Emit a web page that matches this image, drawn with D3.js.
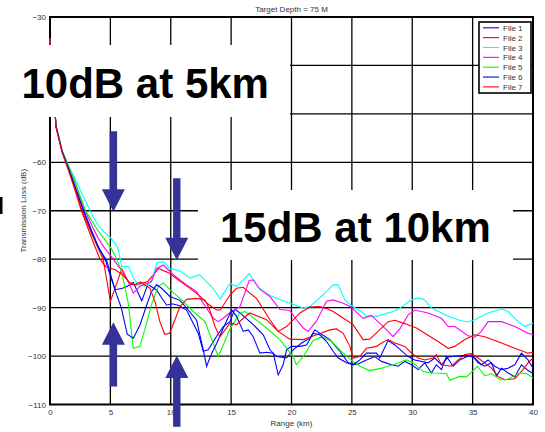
<!DOCTYPE html>
<html>
<head>
<meta charset="utf-8">
<script src="https://cdn.jsdelivr.net/npm/d3@7"></script>
<style>
body { margin: 0; background: #fff; }
text { font-family: "Liberation Sans", Arial, sans-serif; }
</style>
</head>
<body>
<svg id="visualisation" width="545" height="432"></svg>
<script>
// range (km) / transmission loss (dB)
var xTicks = [0, 5, 10, 15, 20, 25, 30, 35, 40];
var yTicks = [-110, -100, -90, -80, -70, -60, -50, -40, -30];
var hiddenYLabels = [-40]; // covered by the "10dB" note
var names = ["File 1", "File 2", "File 3", "File 4", "File 5", "File 6", "File 7"];
var colors = ["#0000ff", "#ff0000", "#00ffff", "#ff00ff", "#00ff00", "#0000ff", "#ff0000"];

var file1 = [[0,-34.5],[0.5,-52.6],[1,-57.7],[1.5,-61],[2,-64.4],[2.75,-70],[3.5,-74.5],[4,-77.4],[4.6,-80.3],[5,-83.5],[5.4,-86.3],[6,-86],[6.4,-85.6],[6.9,-84.8],[7.6,-88.6],[8.1,-85.2],[8.83,-86.4],[9.66,-89.5],[10.07,-89.2],[10.62,-89.5],[11.31,-90.5],[11.73,-92.6],[12.28,-95.3],[12.69,-99],[13.1,-98.7],[13.8,-95.9],[14.35,-93.9],[14.9,-92.9],[15.31,-90.3],[15.73,-91.1],[16.83,-93.5],[17.66,-95.6],[18.21,-98.7],[18.76,-100.1],[19.59,-100.4],[20.14,-98.7],[20.83,-97.3],[21.52,-96.3],[21.93,-94.6],[22.35,-95.3],[23.18,-96.6],[24,-99],[24.7,-101.4],[25.38,-101.8],[26.21,-100.8],[26.9,-100.1],[27.45,-101.1],[28.28,-101.8],[28.83,-102.1],[29.38,-101.1],[29.94,-101.8],[30.49,-102.8],[31.04,-101.4],[31.59,-103.5],[32,-101.8],[32.42,-102.8],[32.83,-100.1],[33.38,-102.1],[33.94,-100.8],[34.9,-99.7],[35.45,-101.4],[36,-102.1],[36.56,-101.4],[36.97,-104.1],[37.39,-102.5],[37.94,-103.5],[38.49,-104.3],[39.04,-101.8],[39.59,-103],[40,-103.6]];
var file2 = [[0,-34.5],[0.5,-52.7],[1,-57.8],[1.5,-61.2],[2,-64.8],[2.65,-70],[3.5,-75],[4,-77.8],[4.4,-80],[5,-88.7],[5.95,-82],[6.6,-85.2],[7.2,-85.3],[8.1,-84.6],[9,-81.9],[9.9,-82.9],[10.8,-84.6],[11.6,-86],[12.4,-87.6],[13,-89.1],[13.8,-90.5],[14.1,-90.5],[14.9,-87.4],[15.45,-86],[16,-85.8],[16.55,-87],[17.1,-88.1],[18.21,-92.5],[18.9,-94.9],[19.86,-96.5],[20.97,-96.6],[22.07,-95.6],[23.18,-94.6],[23.73,-94.4],[24.28,-95.3],[24.83,-98],[25.1,-100.4],[25.66,-100.1],[26.21,-98.4],[27.04,-98],[27.45,-97.3],[28,-96.6],[28.56,-97.3],[29.38,-98],[29.94,-99.4],[30.49,-100.4],[31.04,-100.8],[31.73,-100.4],[32,-99.7],[32.42,-101.8],[33.25,-102.1],[33.8,-100.8],[34.35,-99.7],[34.9,-99.5],[35.45,-100.4],[36,-101.4],[36.56,-102.5],[37.11,-104.2],[37.66,-104.9],[38.49,-104.7],[39.18,-102.8],[39.59,-101.4],[40,-100.4]];
var file3 = [[0,-34.5],[0.5,-52.5],[1,-57.5],[1.5,-60.5],[2,-63],[2.5,-65.6],[3,-68.3],[3.5,-70.9],[4,-73],[4.5,-74.4],[5,-75.5],[5.6,-77.5],[5.95,-81.5],[6.5,-81.5],[6.9,-83.9],[7.3,-85.3],[8,-85.6],[8.4,-84.6],[8.85,-80.8],[9.4,-80.5],[9.9,-81.9],[10.8,-82.5],[11.6,-83.9],[12.4,-83.2],[13.5,-86],[14.1,-88.2],[14.9,-85],[15.45,-85.6],[16.5,-83],[17.3,-86],[18.3,-87.6],[19.86,-89.1],[20.97,-90.1],[21.52,-89.8],[22.9,-86.7],[23.45,-85.3],[23.86,-85.3],[24.42,-88.4],[24.97,-89.6],[25.8,-90.8],[26.21,-91.8],[27.04,-91.8],[28.42,-90.8],[28.97,-90.1],[29.94,-88.4],[30.5,-88],[31.04,-88.4],[31.59,-90.1],[32.97,-91.8],[34.07,-92.7],[34.63,-92.9],[35.18,-92.5],[36.28,-91.1],[37.39,-90.3],[37.94,-90.8],[38.77,-92.9],[39.32,-93.9],[40,-93.2]];
var file4 = [[0,-34.5],[0.5,-52.5],[1,-57.6],[1.5,-60.8],[2,-63.6],[2.5,-67.2],[2.9,-70],[3.5,-73.2],[4,-75.7],[4.5,-77.6],[5,-79.2],[5.8,-81.9],[6.48,-84.6],[6.9,-87],[7.45,-85.6],[8,-85],[8.4,-84.6],[8.83,-81.9],[9.38,-81.2],[10.21,-83.2],[11.31,-85.3],[12.14,-86.7],[12.69,-89.1],[13.52,-92.2],[13.93,-92.9],[14.35,-92.2],[14.9,-91],[15.73,-89.8],[16.5,-84.4],[16.83,-84.3],[17.38,-86.2],[18.21,-87.7],[19.04,-90.4],[19.86,-90.6],[20.41,-92.5],[20.97,-94.2],[21.38,-94.9],[22.07,-92.8],[22.9,-88.7],[23.45,-88.4],[24.28,-89.1],[24.9,-89.8],[25.93,-92.2],[26.6,-91.6],[27.3,-93.2],[27.87,-94.6],[28.42,-96],[28.97,-94.4],[29.66,-91.5],[30.21,-90.5],[31.31,-91.1],[32.42,-92.2],[32.97,-93.9],[33.52,-93.9],[34.63,-95.8],[35.18,-96.1],[35.73,-94.9],[36.28,-92.9],[37.39,-92.9],[38.49,-93.9],[39.59,-95.3],[40,-95.6]];
var file5 = [[0,-34.5],[0.5,-52.5],[1,-57.6],[1.5,-60.6],[2,-63.5],[2.5,-67],[2.95,-70],[3.5,-72.2],[4,-74.2],[4.5,-75.8],[5,-77.5],[5.4,-79.3],[5.9,-82.2],[6.48,-89.1],[6.9,-98.4],[7.45,-98],[8,-93.2],[8.4,-89.4],[8.97,-85.6],[9.38,-84.9],[9.93,-86.3],[10.9,-88.4],[11.86,-90.8],[12.83,-92.9],[13.93,-100.1],[14.35,-97.7],[14.9,-94.4],[15.73,-91.1],[16.14,-90.8],[16.55,-91.5],[17.93,-94.2],[19.04,-96.6],[20.14,-100.1],[20.4,-101.8],[20.97,-100.1],[21.8,-96.8],[22.5,-96.1],[23.3,-96.9],[24.1,-99],[24.97,-100.9],[25.66,-102.1],[26.49,-103],[27.3,-102.6],[28.42,-101.8],[29.52,-100.8],[30.07,-101.4],[30.9,-103.2],[31.73,-103.5],[32.83,-103.6],[33.1,-105],[33.94,-104.2],[34.49,-104.3],[35.4,-102.1],[36,-104.1],[36.56,-103.6],[37.3,-104.9],[37.8,-104.9],[38.9,-103.5],[39.45,-103.6],[40,-104.5]];
var file6 = [[0,-34.5],[0.5,-52.6],[1,-57.7],[1.5,-61],[2,-64.6],[2.8,-70],[3.5,-74.6],[4,-77.6],[4.7,-80.3],[5,-83],[5.4,-86.5],[5.9,-90],[6.4,-95.5],[6.9,-96.3],[7.45,-93.6],[8,-89.5],[8.4,-86.7],[8.83,-85.3],[9.24,-86],[9.93,-87.7],[10.76,-88.5],[11.59,-90.9],[12.14,-92.6],[12.69,-98.7],[12.97,-102.1],[13.38,-99.5],[13.8,-97.4],[14.3,-94.5],[15.04,-90.5],[15.45,-91.8],[16,-94.9],[16.42,-94.6],[16.83,-96],[17.38,-99.4],[17.93,-99.2],[18.49,-99.4],[18.9,-103.9],[19.31,-101.8],[19.59,-98.7],[20,-98],[20.69,-98],[21.24,-97.7],[21.8,-95.3],[22.35,-95.6],[22.9,-97],[23.45,-99],[23.87,-100.4],[24.56,-101.4],[25.11,-101.8],[25.66,-100.8],[26.21,-99.4],[27.04,-99.4],[27.31,-100.4],[28,-96.8],[28.56,-97.7],[29.66,-100.1],[30.21,-100.8],[31.31,-101.4],[31.87,-100.4],[32.42,-101.8],[32.97,-100.2],[34.07,-99.9],[34.63,-99.9],[35.18,-100.4],[35.73,-101.8],[36.28,-100.8],[36.83,-102.1],[37.39,-102.8],[37.94,-102.5],[38.49,-101.8],[39.04,-99.4],[39.59,-100.8],[40,-102.5]];
var file7 = [[0,-34.5],[0.5,-52.8],[1,-58],[1.5,-61.5],[2,-65.2],[2.6,-70],[3.5,-76],[4.14,-80],[4.6,-81.5],[5.4,-82.2],[6,-83.2],[6.5,-84.6],[7,-85.3],[7.5,-84.7],[8.28,-86],[8.69,-88.7],[9.1,-92.9],[9.5,-95.5],[9.9,-95.3],[10.35,-92.5],[10.76,-89.8],[11.31,-88.3],[12.14,-88.1],[12.83,-88.4],[13.24,-90.5],[13.66,-93.9],[14.07,-96],[14.5,-94.6],[14.9,-93.2],[15.45,-93.5],[16,-92.2],[16.55,-91.1],[17.93,-92.5],[18.9,-94.9],[19.59,-93.9],[20.7,-91.1],[21.52,-89.9],[22.35,-89.8],[22.9,-90.2],[23.45,-90.8],[24.3,-92.2],[25.1,-93.5],[25.93,-96.6],[26.49,-96.5],[27.3,-94.6],[28,-92.9],[28.56,-92.6],[29.38,-93.3],[30.35,-94.2],[31.04,-95.3],[32.14,-97],[32.97,-98.4],[33.52,-98],[34.35,-96.6],[35.18,-95.6],[36,-96],[37.39,-97.3],[38.49,-98.4],[39.59,-99.4],[40,-99.2]];
var series = [file1, file2, file3, file4, file5, file6, file7];

var notes = ["10dB at 5km", "15dB at 10km"];
var arrows = [
    { x: 5.25, from: -53.6, to: -70.2 },
    { x: 10.5, from: -63.3, to: -80.2 },
    { x: 5.25, from: -106.3, to: -93 },
    { x: 10.5, from: -114.6, to: -99.9 }
];

var vis = d3.select("#visualisation"),
    WIDTH = 545,
    HEIGHT = 432,
    MARGINS = { top: 17, right: 12, bottom: 27.5, left: 50 },
    xScale = d3.scaleLinear().domain([0, 40]).range([MARGINS.left, WIDTH - MARGINS.right]),
    yScale = d3.scaleLinear().domain([-110, -30]).range([HEIGHT - MARGINS.bottom, MARGINS.top]);

vis.append("rect").attr("width", WIDTH).attr("height", HEIGHT).attr("fill", "#fff");

// grid
vis.append("g").selectAll("line").data(xTicks.slice(1, -1)).enter().append("line")
    .attr("x1", d => xScale(d)).attr("x2", d => xScale(d))
    .attr("y1", yScale(-30)).attr("y2", yScale(-110))
    .attr("stroke", "#000").attr("stroke-width", 1.3);
vis.append("g").selectAll("line").data(yTicks.slice(1, -1)).enter().append("line")
    .attr("x1", xScale(0)).attr("x2", xScale(40))
    .attr("y1", d => yScale(d)).attr("y2", d => yScale(d))
    .attr("stroke", "#000").attr("stroke-width", 1.3);

// axes (labels only)
var xAxis = d3.axisBottom(xScale).tickValues(xTicks).tickSize(0).tickPadding(5);
var yAxis = d3.axisLeft(yScale)
    .tickValues(yTicks.filter(d => hiddenYLabels.indexOf(d) < 0))
    .tickSize(0).tickPadding(4);
var gx = vis.append("g").attr("transform", "translate(0," + yScale(-110) + ")").call(xAxis);
var gy = vis.append("g").attr("transform", "translate(" + xScale(0) + ",0)").call(yAxis);
[gx, gy].forEach(function (g) {
    g.select(".domain").remove();
    g.selectAll("text").attr("font-size", 8).attr("fill", "#333")
        .attr("font-family", "Liberation Sans, Arial, sans-serif");
});

// frame
vis.append("rect")
    .attr("x", xScale(0)).attr("y", yScale(-30))
    .attr("width", xScale(40) - xScale(0)).attr("height", yScale(-110) - yScale(-30))
    .attr("fill", "none").attr("stroke", "#000").attr("stroke-width", 2);

// data lines
var lineGen = d3.line()
    .x(function (d) { return xScale(d[0]); })
    .y(function (d) { return yScale(d[1]); });
series.forEach(function (s, i) {
    vis.append("path")
        .attr("d", lineGen(s))
        .attr("stroke", colors[i])
        .attr("stroke-width", 1.1)
        .attr("fill", "none");
});

// titles
vis.append("text").attr("x", (xScale(0) + xScale(40)) / 2).attr("y", 12)
    .attr("text-anchor", "middle").attr("font-size", 8).attr("fill", "#333")
    .text("Target Depth = 75 M");
vis.append("text").attr("x", (xScale(0) + xScale(40)) / 2).attr("y", 426)
    .attr("text-anchor", "middle").attr("font-size", 8).attr("fill", "#333")
    .text("Range (km)");
vis.append("text")
    .attr("transform", "translate(25.5," + (yScale(-70)) + ") rotate(-90)")
    .attr("text-anchor", "middle").attr("font-size", 8).attr("fill", "#333")
    .text("Transmission Loss (dB)");

// legend
var lg = vis.append("g").attr("transform", "translate(479,22)");
lg.append("rect").attr("width", 52).attr("height", 71)
    .attr("fill", "#fff").attr("stroke", "#000").attr("stroke-width", 1.6);
names.forEach(function (n, i) {
    var yy = 5.8 + i * 9.85;
    lg.append("line").attr("x1", 4).attr("x2", 20).attr("y1", yy).attr("y2", yy)
        .attr("stroke", colors[i]).attr("stroke-width", 1.1);
    lg.append("text").attr("x", 24).attr("y", yy + 3).attr("font-size", 8)
        .attr("fill", "#333").text(n);
});

// annotation boxes
var boxes = [
    { x: 0, y: 45, w: 290, h: 72, tx: 21.5, ty: 97.5 },
    { x: 198, y: 190, w: 315, h: 70, tx: 220, ty: 242 }
];
boxes.forEach(function (b, i) {
    vis.append("rect").attr("x", b.x).attr("y", b.y).attr("width", b.w).attr("height", b.h)
        .attr("fill", "#fff");
    vis.append("text").attr("x", b.tx).attr("y", b.ty)
        .attr("font-size", 42).attr("font-weight", "bold").attr("fill", "#000")
        .text(notes[i]);
});

// stray mark at the left edge
vis.append("rect").attr("x", 0).attr("y", 197).attr("width", 2.5).attr("height", 17).attr("fill", "#000");

// arrows
arrows.forEach(function (a) {
    var cx = xScale(a.x), y0 = yScale(a.from), y1 = yScale(a.to);
    var dir = y1 > y0 ? 1 : -1, hl = 22.5, hw = 11.5, sw = 3.7;
    var yb = y1 - dir * hl;
    var pts = [[cx - sw, y0], [cx + sw, y0], [cx + sw, yb], [cx + hw, yb], [cx, y1], [cx - hw, yb], [cx - sw, yb]];
    vis.append("polygon").attr("points", pts.map(p => p.join(",")).join(" "))
        .attr("fill", "#333399");
});
</script>
</body>
</html>
